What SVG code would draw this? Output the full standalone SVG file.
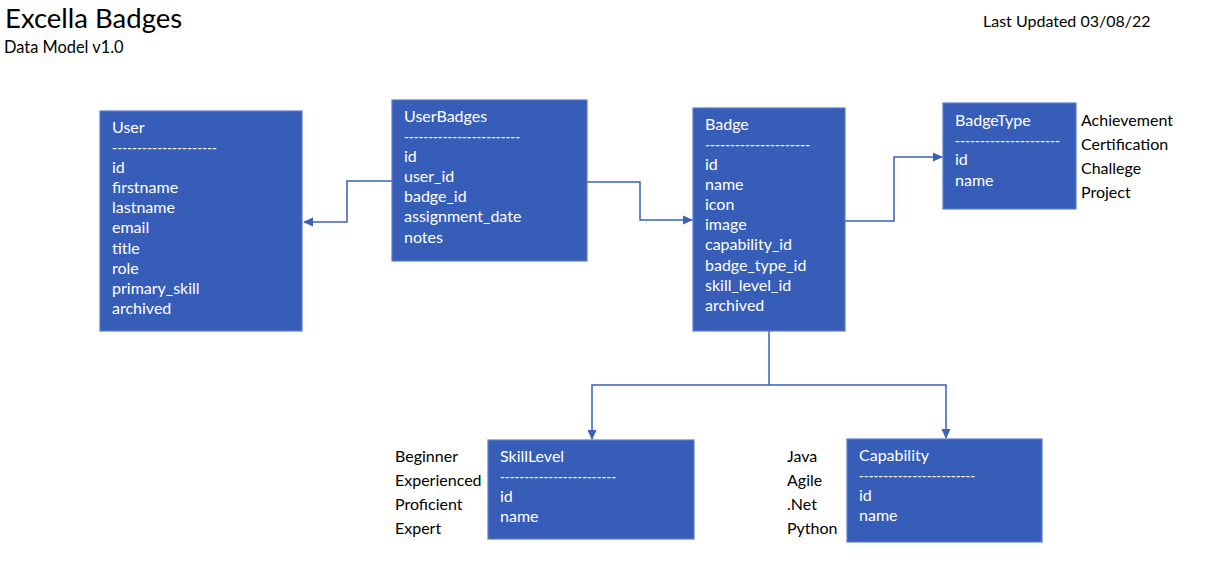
<svg xmlns="http://www.w3.org/2000/svg" width="1210" height="573" viewBox="0 0 1210 573">
<style>
.box{fill:#365DB8;stroke:#5B7CC6;stroke-width:1.2}
.t{font-family:Lato,"Open Sans","Liberation Sans",sans-serif;font-size:16px;fill:#ffffff}
.k{font-family:Lato,"Open Sans","Liberation Sans",sans-serif;font-size:16px;fill:#000000}
.c{fill:none;stroke:#3A62B8;stroke-width:1.5}
</style>
<defs>
<marker id="ah" markerWidth="10" markerHeight="10" refX="9" refY="5" orient="auto" markerUnits="userSpaceOnUse">
<path d="M0,0.5 L10,5 L0,9.5 Z" fill="#3A62B8"/>
</marker>
</defs>
<rect width="1210" height="573" fill="#ffffff"/>
<g id="header">
<text x="5" y="28" style="font-family:Lato,'Open Sans','Liberation Sans',sans-serif;font-size:27.5px;fill:#000">Excella Badges</text>
<text x="4" y="53" style="font-family:Lato,'Open Sans','Liberation Sans',sans-serif;font-size:16.4px;fill:#000">Data Model v1.0</text>
<text x="983" y="27" class="k">Last Updated 03/08/22</text>
</g>
<g id="connectors">
<path class="c" d="M392,181 H347 V222 H304" marker-end="url(#ah)"/>
<path class="c" d="M587,182 H640 V220 H692" marker-end="url(#ah)"/>
<path class="c" d="M845,221 H894 V157 H942" marker-end="url(#ah)"/>
<path class="c" d="M769,331 V385"/>
<path class="c" d="M769,385 H592 V439" marker-end="url(#ah)"/>
<path class="c" d="M769,385 H946 V438" marker-end="url(#ah)"/>
</g>
<g id="User">
<rect class="box" x="100" y="111" width="202" height="220"/>
<text class="t" x="112" y="133">User</text>
<text class="t" x="112" y="153" textLength="105" lengthAdjust="spacingAndGlyphs">---------------------</text>
<text class="t" x="112" y="173">id</text>
<text class="t" x="112" y="193">firstname</text>
<text class="t" x="112" y="213">lastname</text>
<text class="t" x="112" y="233">email</text>
<text class="t" x="112" y="254">title</text>
<text class="t" x="112" y="274">role</text>
<text class="t" x="112" y="294">primary_skill</text>
<text class="t" x="112" y="314">archived</text>
</g>
<g id="UserBadges">
<rect class="box" x="392" y="100" width="195" height="161"/>
<text class="t" x="404" y="122">UserBadges</text>
<text class="t" x="404" y="142" textLength="116" lengthAdjust="spacingAndGlyphs">------------------------</text>
<text class="t" x="404" y="162">id</text>
<text class="t" x="404" y="182">user_id</text>
<text class="t" x="404" y="202">badge_id</text>
<text class="t" x="404" y="222">assignment_date</text>
<text class="t" x="404" y="243">notes</text>
</g>
<g id="Badge">
<rect class="box" x="693" y="108" width="152" height="223"/>
<text class="t" x="705" y="130">Badge</text>
<text class="t" x="705" y="150" textLength="105" lengthAdjust="spacingAndGlyphs">---------------------</text>
<text class="t" x="705" y="170">id</text>
<text class="t" x="705" y="190">name</text>
<text class="t" x="705" y="210">icon</text>
<text class="t" x="705" y="230">image</text>
<text class="t" x="705" y="250">capability_id</text>
<text class="t" x="705" y="271">badge_type_id</text>
<text class="t" x="705" y="291">skill_level_id</text>
<text class="t" x="705" y="311">archived</text>
</g>
<g id="BadgeType">
<rect class="box" x="943" y="103" width="133" height="106"/>
<text class="t" x="955" y="126">BadgeType</text>
<text class="t" x="955" y="146" textLength="105" lengthAdjust="spacingAndGlyphs">---------------------</text>
<text class="t" x="955" y="165">id</text>
<text class="t" x="955" y="186">name</text>
<text class="k" x="1081" y="126">Achievement</text>
<text class="k" x="1081" y="150">Certification</text>
<text class="k" x="1081" y="174">Challege</text>
<text class="k" x="1081" y="198">Project</text>
</g>
<g id="SkillLevel">
<rect class="box" x="488" y="440" width="206" height="99"/>
<text class="t" x="500" y="462">SkillLevel</text>
<text class="t" x="500" y="482" textLength="116" lengthAdjust="spacingAndGlyphs">------------------------</text>
<text class="t" x="500" y="502">id</text>
<text class="t" x="500" y="522">name</text>
<text class="k" x="395" y="462">Beginner</text>
<text class="k" x="395" y="486">Experienced</text>
<text class="k" x="395" y="510">Proficient</text>
<text class="k" x="395" y="534">Expert</text>
</g>
<g id="Capability">
<rect class="box" x="847" y="439" width="195" height="103"/>
<text class="t" x="859" y="461">Capability</text>
<text class="t" x="859" y="481" textLength="116" lengthAdjust="spacingAndGlyphs">------------------------</text>
<text class="t" x="859" y="501">id</text>
<text class="t" x="859" y="521">name</text>
<text class="k" x="787" y="462">Java</text>
<text class="k" x="787" y="486">Agile</text>
<text class="k" x="787" y="510">.Net</text>
<text class="k" x="787" y="534">Python</text>
</g>
</svg>
